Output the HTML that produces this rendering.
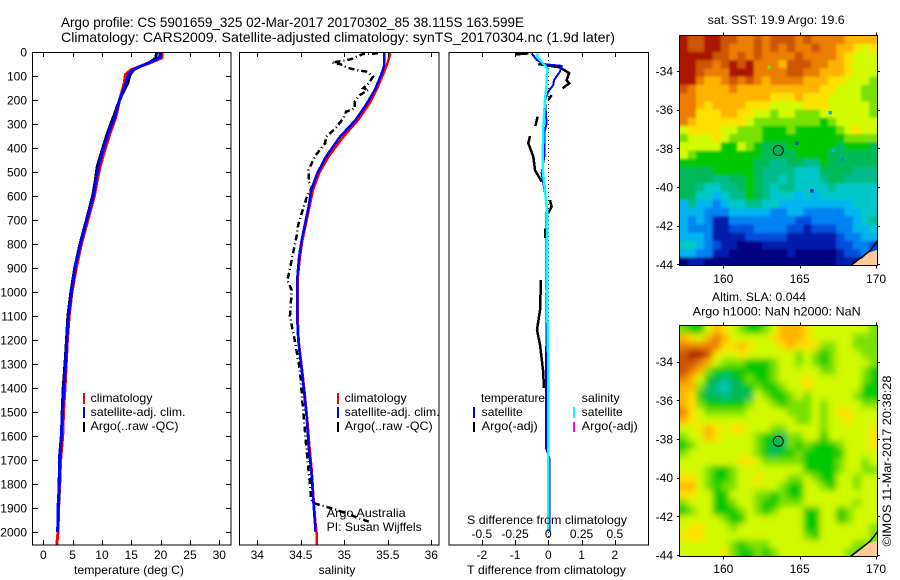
<!DOCTYPE html>
<html>
<head>
<meta charset="utf-8">
<title>Argo profile</title>
<style>
html,body{margin:0;padding:0;background:#fff;}
svg{display:block;}
text{font-family:"Liberation Sans",sans-serif;font-size:12px;fill:#000;}
</style>
</head>
<body>
<svg id="chart" xmlns="http://www.w3.org/2000/svg" width="900" height="580" viewBox="0 0 900 580">
  <defs>
    <clipPath id="clipT"><rect x="33" y="53" width="198" height="492"/></clipPath>
    <clipPath id="clipS"><rect x="240" y="53" width="199" height="492"/></clipPath>
    <clipPath id="clipD"><rect x="449" y="53" width="199" height="492"/></clipPath>
    <clipPath id="clipM1"><rect x="679.5" y="35.5" width="198" height="230.5"/></clipPath>
    <clipPath id="clipM2"><rect x="679.5" y="325.5" width="198" height="231"/></clipPath>
    <filter id="blurM1" filterUnits="userSpaceOnUse" x="640" y="0" width="260" height="300"><feGaussianBlur stdDeviation="1.3"/></filter>
    <filter id="blurM2" filterUnits="userSpaceOnUse" x="640" y="290" width="260" height="290"><feGaussianBlur stdDeviation="3.2"/></filter>
  </defs>

  <text x="61" y="27" font-size="14" style="font-size:14px" textLength="463" lengthAdjust="spacingAndGlyphs">Argo profile: CS 5901659_325 02-Mar-2017 20170302_85 38.115S 163.599E</text>
  <text x="61" y="42" style="font-size:14px" textLength="554" lengthAdjust="spacingAndGlyphs">Climatology: CARS2009. Satellite-adjusted climatology: synTS_20170304.nc (1.9d later)</text>

  <g id="panelT"></g>
  <g id="panelS"></g>
  <g id="panelD"></g>

  <text x="129" y="574" text-anchor="middle" textLength="110" lengthAdjust="spacingAndGlyphs">temperature (deg C)</text>
  <text x="337" y="574" text-anchor="middle">salinity</text>
  <text x="467" y="574" textLength="159" lengthAdjust="spacingAndGlyphs">T difference from climatology</text>
  <text x="467" y="524" textLength="160" lengthAdjust="spacingAndGlyphs">S difference from climatology</text>

  <g>
    <rect x="83" y="393" width="2" height="11" fill="#f00"/>
    <rect x="83" y="407" width="2" height="11" fill="#00f"/>
    <rect x="83" y="422" width="2" height="10" fill="#000"/>
    <text x="90.5" y="402" textLength="62" lengthAdjust="spacingAndGlyphs">climatology</text>
    <text x="90.5" y="416" textLength="95" lengthAdjust="spacingAndGlyphs">satellite-adj. clim.</text>
    <text x="90.5" y="430" textLength="88" lengthAdjust="spacingAndGlyphs">Argo(..raw -QC)</text>
  </g>
  <g>
    <rect x="337" y="393" width="2" height="11" fill="#f00"/>
    <rect x="337" y="407" width="2" height="11" fill="#00f"/>
    <rect x="337" y="422" width="2" height="10" fill="#000"/>
    <text x="344.7" y="402" textLength="62" lengthAdjust="spacingAndGlyphs">climatology</text>
    <text x="344.7" y="416" textLength="95" lengthAdjust="spacingAndGlyphs">satellite-adj. clim.</text>
    <text x="344.7" y="430" textLength="88" lengthAdjust="spacingAndGlyphs">Argo(..raw -QC)</text>
    <text x="326.7" y="517" textLength="79" lengthAdjust="spacingAndGlyphs">Argo Australia</text>
    <text x="326.7" y="531" textLength="95" lengthAdjust="spacingAndGlyphs">PI: Susan Wijffels</text>
  </g>
  <g>
    <text x="481" y="402" textLength="64" lengthAdjust="spacingAndGlyphs">temperature</text>
    <rect x="473" y="407" width="2" height="11" fill="#00f"/>
    <rect x="473" y="422" width="2" height="10" fill="#000"/>
    <text x="481.7" y="416" textLength="41" lengthAdjust="spacingAndGlyphs">satellite</text>
    <text x="481.7" y="430" textLength="56" lengthAdjust="spacingAndGlyphs">Argo(-adj)</text>
    <text x="581.7" y="402" textLength="38" lengthAdjust="spacingAndGlyphs">salinity</text>
    <rect x="573" y="407" width="2" height="11" fill="#0ff"/>
    <rect x="573" y="422" width="2" height="10" fill="#f0f"/>
    <text x="581.7" y="416" textLength="41" lengthAdjust="spacingAndGlyphs">satellite</text>
    <text x="581.7" y="430" textLength="56" lengthAdjust="spacingAndGlyphs">Argo(-adj)</text>
  </g>

  <text x="707.7" y="24" textLength="137" lengthAdjust="spacingAndGlyphs">sat. SST: 19.9 Argo: 19.6</text>
  <text x="712" y="301" textLength="94" lengthAdjust="spacingAndGlyphs">Altim. SLA: 0.044</text>
  <text x="692.7" y="315.5" textLength="168" lengthAdjust="spacingAndGlyphs">Argo h1000: NaN h2000: NaN</text>
  <g id="mapA"></g>
  <g id="mapB"></g>
  <text x="0" y="0" transform="translate(891,546.5) rotate(-90)" textLength="171" lengthAdjust="spacingAndGlyphs">©IMOS 11-Mar-2017 20:38:28</text>
</svg>
<script>
// ---- depth ticks / axis ticks ----
const depthTicks = [0,100,200,300,400,500,600,700,800,900,1000,1100,1200,1300,1400,1500,1600,1700,1800,1900,2000];
const tempTicks = [0,5,10,15,20,25,30];
const salTicks = ['34','34.5','35','35.5','36'];
const tDiffTicks = [-2,-1,0,1,2];
const sDiffTicks = ['-0.5','-0.25','0','0.25','0.5'];
const lonTicks = [160,165,170];
const latTicks = [-34,-36,-38,-40,-42,-44];

// ---- temperature profile ----
const tempDepth = [0,25,46,60,74,94,129,199,268,337,407,476,546,601,700,800,900,1000,1100,1200,1300,1400,1500,1600,1700,1800,1900,2000,2054];
const climTemp = [20.3,20.2,18.1,16.5,15.0,14.0,13.8,13.0,12.4,11.4,10.5,9.7,9.1,8.7,7.6,6.5,5.6,4.9,4.4,4.1,3.9,3.7,3.45,3.3,2.95,2.8,2.6,2.5,2.3];
const satTemp = [19.9,19.8,17.9,16.5,15.3,14.5,14.1,13.0,12.2,11.1,10.2,9.4,8.9,8.5,7.4,6.3,5.4,4.8,4.3,4.0,3.8,3.5,3.25,3.07,2.73,2.73,2.5,2.45,null];
const argoTemp = [19.3,19.2,18.0,16.5,15.4,14.8,14.4,13.0,12.0,10.95,10.05,9.2,8.8,8.4,7.35,6.25,5.35,4.7,4.2,3.95,3.7,3.4,3.22,3.08,2.8,2.7,2.6,null,null];

// ---- salinity profile ----
const salDepth = [5,54,89,158,214,283,353,436,505,575,644,714,783,853,943,1000,1117,1200,1325,1422,1533,1645,1742,1853,1950,2000,2054];
const climSal = [35.53,35.49,35.45,35.37,35.29,35.16,34.99,34.82,34.71,34.64,34.60,34.56,34.52,34.49,34.465,34.465,34.465,34.475,34.515,34.545,34.575,34.6,34.625,34.645,34.665,34.68,34.68];
const satSal = [35.46,35.46,35.43,35.35,35.26,35.13,34.95,34.79,34.69,34.62,34.59,34.55,34.51,34.48,34.46,34.46,34.46,34.47,34.51,34.54,34.57,34.59,34.62,34.64,34.66,34.67,null];
const argoSalDepth = [6,8,31,44,50,65,75,82,103,131,151,158,179,207,235,249,276,322,353,380,436,492,540,561,603,672,721,769,839,929,950,992,1103,1200,1325,1463,1547,1630,1728,1783,1867,1881,1908,1957];
const argoSal = [35.39,35.22,35.07,34.86,34.95,35.03,35.14,35.26,35.33,35.28,35.22,35.28,35.18,35.12,35.12,35.02,34.99,34.89,34.79,34.78,34.66,34.59,34.59,34.63,34.57,34.51,34.47,34.45,34.41,34.36,34.345,34.395,34.375,34.43,34.49,34.52,34.54,34.56,34.585,34.6,34.62,34.66,34.91,35.28];

// ---- differences from climatology ----
const satDiffDepth = [6,33,50,58,82,117,137,165,200,297,339,436,505,589,644,783,1000,1400,1650,1690,2000];
const satDiffT = [-0.5,-0.35,-0.15,0.4,0.35,0.17,0.15,0,-0.1,-0.05,-0.12,-0.12,-0.2,-0.1,-0.05,-0.05,-0.05,-0.07,-0.07,0.03,0.03];
const satDiffSDepth = [6,19,40,68,131,200,311,436,492,575,672,783,1000,1325,2000];
const satDiffS = [-0.075,-0.087,-0.05,-0.008,-0.012,-0.025,-0.037,-0.042,-0.042,-0.025,-0.008,-0.008,-0.01,0,0];
const argoDiffDepth = [6,10,20,50,64,88,117,131,151,160,179,200,210,269,308,320,350,380,436,492,540,560,617,644,672,700,735,776,800,850,950,1075,1158,1220,1325,1400,1640,1730];
const argoDiffT = [-0.6,-1.0,null,-0.3,0.35,0.63,0.55,0.63,0.43,null,0.10,0,null,-0.32,-0.39,null,-0.55,-0.60,-0.45,-0.40,-0.2,null,0.05,0.10,0,null,-0.10,-0.10,null,null,-0.22,-0.25,-0.34,-0.25,-0.16,-0.13,null,-0.07];

// ---- maps: colour levels, gridded values (24 columns x 28 rows) ----
const levelColors = ['#000082','#001eaa','#0050dc','#0082f0','#00b4f0','#00c8c8','#00be8c','#00b95a','#00c800','#78e100','#d2fa00','#ffe100','#ffb400','#eb7d00','#cd5500','#aa1900'];
const sstGrid = [
[15,14,14,15,15,14,14,13,13,14,13,14,14,14,13,14,13,13,13,13,12,12,12,12],
[15,14,14,15,15,14,13,13,13,14,13,14,13,14,13,13,14,13,13,12,12,11,10,11],
[15,15,15,15,14,14,13,14,13,14,13,13,13,13,14,13,13,13,13,12,11,10,10,10],
[15,15,14,14,13,14,15,14,15,13,13,13,12,14,14,14,13,13,12,12,11,10,10,10],
[15,15,14,13,13,13,15,15,15,13,13,13,13,14,14,13,13,12,12,12,11,10,10,10],
[15,15,13,12,12,13,14,13,14,13,12,13,13,13,13,12,12,12,11,11,10,10,10,9],
[14,13,12,12,12,12,13,12,12,12,12,12,12,12,12,12,12,11,11,10,10,10,9,9],
[13,13,12,12,12,12,12,12,12,12,12,11,11,11,12,11,11,11,10,10,10,10,9,9],
[13,13,12,11,12,12,12,12,11,11,11,10,10,10,10,11,11,11,10,10,10,10,10,9],
[13,13,11,11,11,12,12,11,11,10,10,9,10,10,9,9,9,10,10,10,10,10,10,9],
[13,12,11,11,11,11,11,11,10,9,9,9,9,9,9,9,9,8,9,10,10,10,10,10],
[10,11,11,11,11,10,10,9,9,9,8,8,8,9,8,8,8,8,8,9,10,11,10,10],
[9,10,10,10,11,10,9,9,9,9,8,8,8,8,8,8,8,8,8,8,9,9,9,9],
[10,10,10,10,10,8,8,10,9,8,7,7,7,8,8,8,8,8,8,7,8,8,8,7],
[10,9,8,8,8,8,8,8,8,8,7,7,7,7,8,8,8,8,7,7,7,7,7,7],
[8,8,8,8,8,8,8,8,8,7,7,6,6,7,7,6,6,8,7,7,7,7,7,7],
[7,7,7,7,8,8,8,8,8,7,6,6,6,6,5,5,5,7,7,7,7,6,6,6],
[7,7,7,7,6,6,7,7,8,7,6,6,5,6,5,5,5,6,7,7,6,6,6,6],
[7,7,6,5,5,6,6,7,8,7,6,5,6,6,5,5,5,5,6,5,5,5,5,5],
[7,7,5,5,4,5,6,6,8,7,6,5,5,5,4,5,4,5,5,5,5,5,5,5],
[4,6,4,4,3,4,5,5,6,6,5,5,4,4,4,4,4,4,4,4,4,5,5,5],
[4,4,4,3,3,3,4,4,4,4,4,3,3,4,4,3,3,3,3,3,4,4,5,5],
[4,3,4,3,1,1,3,3,3,3,3,3,3,3,2,2,3,3,3,3,3,4,5,6],
[4,3,3,3,1,1,2,2,2,3,3,3,3,2,2,1,2,2,2,3,3,4,4,5],
[4,4,4,3,1,1,1,1,2,2,2,2,2,1,1,1,1,1,1,2,3,3,4,4],
[5,5,4,3,2,1,1,0,0,0,1,1,1,1,1,1,1,1,1,2,2,3,3,2],
[4,4,3,3,1,1,0,0,0,0,0,0,0,1,0,0,0,0,0,1,2,2,3,2],
[0,1,1,0,0,0,0,0,0,0,0,0,0,0,0,0,0,0,0,1,1,1,1,1]
];
const slaGrid = [
[9,8,8,10,12,11,10,9,8,8,9,10,12,12,12,11,10,10,10,10,10,10,10,9],
[12,11,10,12,13,12,10,10,10,10,10,11,12,12,12,11,10,10,10,10,10,9,9,9],
[13,13,13,13,13,11,11,12,11,10,10,10,11,12,11,11,11,9,9,10,10,9,9,9],
[14,15,15,14,11,10,10,11,10,10,10,10,10,10,9,10,9,8,9,10,10,10,9,9],
[14,14,13,12,10,9,9,9,8,8,8,9,10,10,9,10,9,8,9,10,10,10,10,9],
[14,13,12,9,8,8,8,8,8,8,8,9,10,10,10,10,10,9,9,10,10,10,9,8],
[13,12,10,8,7,6,7,8,9,8,8,9,10,10,10,11,10,10,10,10,10,10,9,8],
[12,12,9,7,6,5,7,7,8,9,8,8,9,10,10,11,10,10,10,10,10,10,8,8],
[12,11,8,7,7,6,7,7,7,10,9,8,8,9,10,9,10,10,10,10,10,9,8,8],
[12,11,9,8,8,8,8,8,9,10,10,9,8,9,9,9,10,9,10,10,10,10,9,9],
[13,11,10,9,9,9,9,9,10,10,10,10,10,9,9,9,10,9,10,11,11,10,10,10],
[12,11,10,10,10,10,10,10,10,10,10,10,10,10,9,9,10,9,10,10,11,10,10,10],
[10,10,11,12,11,10,11,11,10,10,10,9,9,10,10,10,10,9,10,10,10,10,10,11],
[9,10,10,12,11,10,10,10,10,9,8,8,7,9,9,10,10,8,10,10,10,10,10,11],
[8,9,10,10,10,10,10,10,10,9,8,7,7,9,8,9,8,8,8,9,10,10,10,11],
[9,10,10,10,10,10,10,10,10,9,8,7,8,8,9,8,8,8,8,8,10,10,10,10],
[10,10,10,10,10,10,10,11,11,10,9,9,9,9,9,8,8,8,8,9,10,10,9,10],
[10,10,10,9,8,8,9,10,10,10,10,10,10,10,10,8,8,8,8,9,10,10,9,9],
[11,11,10,9,8,8,9,10,10,11,10,10,10,9,9,10,9,8,8,10,10,9,10,10],
[12,12,10,9,8,9,9,10,10,10,10,10,9,8,8,10,10,9,8,10,10,9,10,10],
[11,11,10,10,8,8,10,10,10,9,9,8,9,8,8,10,10,10,10,10,10,10,10,10],
[9,10,10,10,8,8,9,10,10,9,8,8,9,9,9,10,10,10,10,10,10,9,10,10],
[8,9,10,10,8,8,8,9,10,9,8,9,10,10,10,8,8,10,10,8,9,10,10,10],
[10,10,10,10,10,9,8,8,10,10,10,10,10,10,10,8,8,10,10,8,9,10,10,10],
[10,11,11,10,10,10,9,10,10,10,10,10,10,10,10,8,8,10,10,10,10,10,10,9],
[11,11,11,10,10,10,10,10,10,10,10,10,10,10,10,9,8,10,10,10,10,10,10,9],
[10,10,10,10,10,10,9,8,9,9,9,10,10,10,10,10,10,10,10,10,10,9,9,9],
[10,10,10,10,10,11,9,8,8,9,8,9,10,10,10,10,10,10,10,10,9,9,9,9]
];
const speckleLon = [163.0,164.8,165.8,167.0,167.2,167.8];
const speckleLat = [-33.8,-37.74,-40.2,-36.15,-38.1,-38.55];
const speckleLevel = [9,2,1,4,4,3];
const landLon = [168.3,168.7,169.1,169.5,170.1,170.1];
const landLat = [-44.1,-43.8,-43.7,-43.4,-43.25,-44.1];
const coastLon = [168.3,168.7,169.1,169.6,170.1];
const coastLat = [-44.1,-43.85,-43.6,-43.3,-42.8];
const floatLon = 163.599;
const floatLat = -38.115;

// ---- axis functions ----
const NS = 'http://www.w3.org/2000/svg';
const yDepth = d => 52 + d * 0.24;
const xTemp = t => 43.3 + t * 5.867;
const xSal = s => 257.3 + (s - 34) * 87;
const xDiffT = t => 548.3 + t * 33.25;
const xDiffS = s => 548.3 + s * 133;
const xLon = lon => 723.3 + (lon - 160) * 15.27;
const yLatA = lat => 71 + (-34 - lat) * 19.33;
const yLatB = lat => 361.7 + (-34 - lat) * 19.33;

function mk(tag, parent, attrs) {
  const el = document.createElementNS(NS, tag);
  for (const k in attrs) el.setAttribute(k, attrs[k]);
  parent.appendChild(el);
  return el;
}

function drawSeries(parent, clip, depths, vals, xf, color, width, dash, name) {
  const g = mk('g', parent, {'clip-path': 'url(#' + clip + ')'});
  
  
  let pts = [];
  const flush = () => {
    if (pts.length > 1) {
      const attrs = {points: pts.join(' '), fill: 'none', stroke: color, 'stroke-width': width, 'shape-rendering': 'crispEdges'};
      if (dash) attrs['stroke-dasharray'] = dash;
      const line = mk('polyline', g, attrs);
      
      
    }
    pts = [];
  };
  for (let i = 0; i < depths.length; i++) {
    if (vals[i] === null) { flush(); continue; }
    pts.push(xf(vals[i]).toFixed(1) + ',' + yDepth(depths[i]).toFixed(1));
  }
  flush();
}

function frame(parent, x, y, w, h) {
  const r = mk('rect', parent, {x: x, y: y, width: w, height: h, fill: 'none', stroke: '#000', 'stroke-width': 1, 'shape-rendering': 'crispEdges'});
  
  
}
function tick(parent, x1, y1, x2, y2) {
  const l = mk('line', parent, {x1: x1, y1: y1, x2: x2, y2: y2, stroke: '#000', 'stroke-width': 1, 'shape-rendering': 'crispEdges'});
  
  
}
function tickLabel(parent, x, y, str, anchor) {
  const t = mk('text', parent, {x: x, y: y, 'text-anchor': anchor});
  t.textContent = str;
  
  
}

// ---- temperature panel ----
const pT = document.getElementById('panelT');
drawSeries(pT, 'clipT', tempDepth, climTemp, xTemp, '#f00', 3, null, 'series-climatology-temperature');
drawSeries(pT, 'clipT', tempDepth, argoTemp, xTemp, '#000', 3, null, 'series-argo-temperature');
drawSeries(pT, 'clipT', tempDepth, satTemp, xTemp, '#00f', 3, null, 'series-satellite-temperature');
frame(pT, 32.5, 52.5, 198.5, 492.5);
depthTicks.forEach(d => {
  const y = Math.round(yDepth(d)) + 0.5;
  tick(pT, 32.5, y, 38, y);
  tick(pT, 226, y, 231, y);
  tickLabel(pT, 27, yDepth(d) + 4.5, String(d), 'end');
});
tempTicks.forEach(t => {
  const x = Math.round(xTemp(t)) + 0.5;
  tick(pT, x, 52.5, x, 57);
  tick(pT, x, 540, x, 545);
  tickLabel(pT, xTemp(t), 559, String(t), 'middle');
});

// ---- salinity panel ----
const pS = document.getElementById('panelS');
drawSeries(pS, 'clipS', salDepth, climSal, xSal, '#f00', 2.5, null, 'series-climatology-salinity');
drawSeries(pS, 'clipS', argoSalDepth, argoSal, xSal, '#000', 2.5, '6 3 1 3', 'series-argo-salinity');
drawSeries(pS, 'clipS', salDepth, satSal, xSal, '#00f', 2.5, null, 'series-satellite-salinity');
frame(pS, 239.5, 52.5, 199.5, 492.5);
salTicks.forEach(s => {
  const x = Math.round(xSal(parseFloat(s))) + 0.5;
  tick(pS, x, 52.5, x, 57);
  tick(pS, x, 540, x, 545);
  tickLabel(pS, xSal(parseFloat(s)), 559, s, 'middle');
});

// ---- difference panel ----
const pD = document.getElementById('panelD');
const zero = mk('line', pD, {x1: xDiffT(0), y1: 52, x2: xDiffT(0), y2: 545, stroke: '#000', 'stroke-width': 1, 'stroke-dasharray': '1 3', 'shape-rendering': 'crispEdges'});


drawSeries(pD, 'clipD', argoDiffDepth, argoDiffT, xDiffT, '#000', 2.5, null, 'series-argo-t-difference');
drawSeries(pD, 'clipD', satDiffDepth, satDiffT, xDiffT, '#00f', 2, null, 'series-satellite-t-difference');
drawSeries(pD, 'clipD', satDiffSDepth, satDiffS, xDiffS, '#0ff', 2.5, null, 'series-satellite-s-difference');
frame(pD, 449, 52.5, 199.5, 492.5);
tDiffTicks.forEach(t => {
  const x = Math.round(xDiffT(t)) + 0.5;
  tick(pD, x, 52.5, x, 57);
  tick(pD, x, 540, x, 545);
  tickLabel(pD, xDiffT(t), 559, String(t), 'middle');
});
sDiffTicks.forEach(s => {
  tickLabel(pD, xDiffS(parseFloat(s)), 538, s, 'middle');
});

// ---- maps ----
function drawMap(parent, grid, top, bottom, clip, blur, yLat, tickY, labelY) {
  const left = 679.5, right = 877.5;
  const cw = (right - left) / grid[0].length;
  const ch = (bottom - top) / grid.length;
  const clipG = mk('g', parent, {'clip-path': 'url(#' + clip + ')'});
  const g = mk('g', clipG, {filter: 'url(#' + blur + ')'});
  grid.forEach((row, r) => row.forEach((v, c) => {
    const x0 = c === 0 ? left - 14 : left + c * cw;
    const x1 = c === row.length - 1 ? right + 14 : left + (c + 1) * cw + 0.5;
    const y0 = r === 0 ? top - 14 : top + r * ch;
    const y1 = r === grid.length - 1 ? bottom + 14 : top + (r + 1) * ch + 0.5;
    const cell = mk('rect', g, {x: x0.toFixed(2), y: y0.toFixed(2), width: (x1 - x0).toFixed(2), height: (y1 - y0).toFixed(2), fill: levelColors[v]});
    
    
  }));
  const land = mk('polygon', clipG, {points: landLon.map((lon, i) => xLon(lon).toFixed(1) + ',' + yLat(landLat[i]).toFixed(1)).join(' '), fill: '#ffc896'});
  
  
  const coast = mk('polyline', clipG, {points: coastLon.map((lon, i) => xLon(lon).toFixed(1) + ',' + yLat(coastLat[i]).toFixed(1)).join(' '), fill: 'none', stroke: '#000', 'stroke-width': 1.5});
  
  
  frame(parent, 679.5, top, 198, bottom - top);
  const mark = mk('circle', parent, {cx: xLon(floatLon), cy: yLat(floatLat), r: 5, fill: 'none', stroke: '#000', 'stroke-width': 1});
  
  
  lonTicks.forEach(lon => {
    const x = Math.round(xLon(lon)) + 0.5;
    tick(parent, x, top - 3, x, top);
    tick(parent, x, bottom, x, bottom + 3);
    tickLabel(parent, xLon(lon), labelY, String(lon), 'middle');
  });
  latTicks.forEach(lat => {
    const y = Math.round(yLat(lat)) + 0.5;
    tick(parent, 677, y, 679.5, y);
    tick(parent, 877.5, y, 880, y);
    tickLabel(parent, 673, yLat(lat) + 4.5, String(lat), 'end');
  });
}
const mA = document.getElementById('mapA');
const mB = document.getElementById('mapB');
drawMap(mA, sstGrid, 35.5, 265.5, 'clipM1', 'blurM1', yLatA, 0, 283);
drawMap(mB, slaGrid, 325.5, 556.5, 'clipM2', 'blurM2', yLatB, 0, 573);
speckleLon.forEach((lon, i) => {
  const s = mk('rect', mA, {x: (xLon(lon) - 1.7).toFixed(1), y: (yLatA(speckleLat[i]) - 1.7).toFixed(1), width: 3.4, height: 3.4, fill: levelColors[speckleLevel[i]]});
  
  
});
</script>
</body>
</html>
